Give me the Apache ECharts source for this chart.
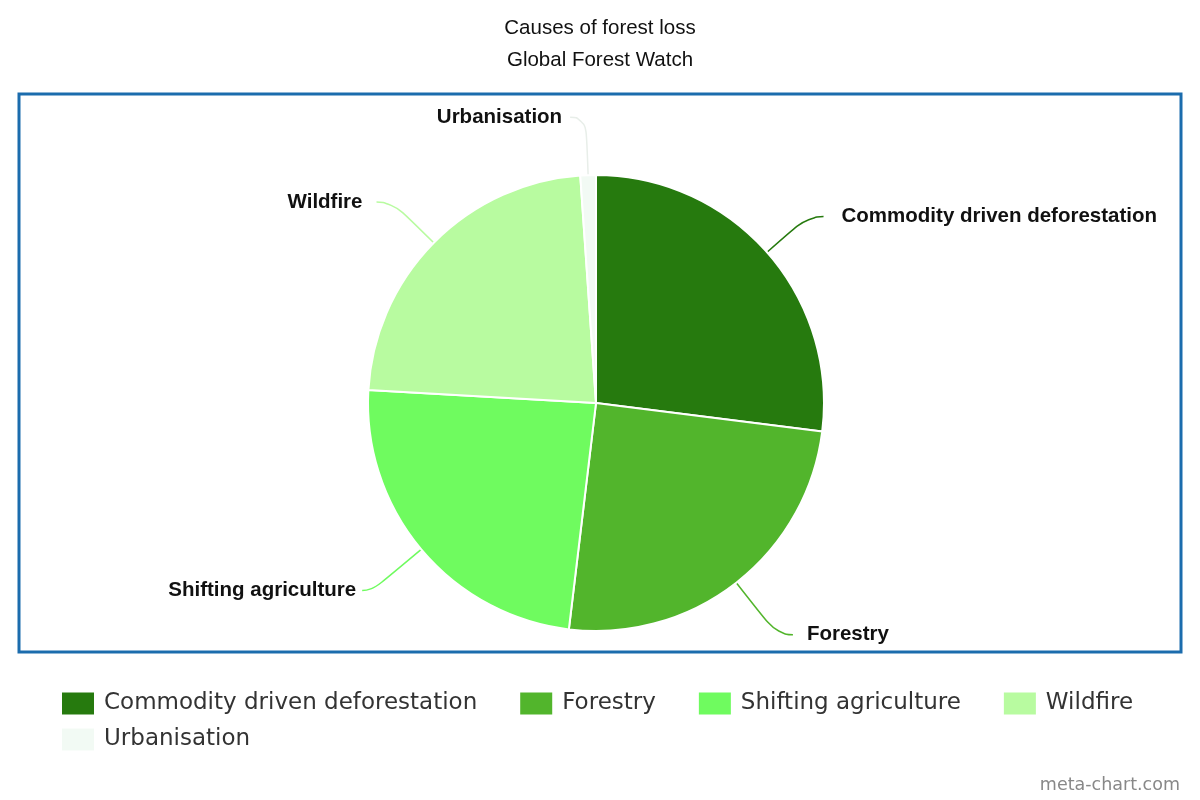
<!DOCTYPE html>
<html>
<head>
<meta charset="utf-8">
<script src="https://cdn.jsdelivr.net/npm/echarts@6/dist/echarts.min.js"></script>
<style>html,body{margin:0;padding:0;background:#fff;}#c{width:1200px;height:800px;}</style>
</head>
<body>
<div id="c"></div>
<script>
const categories = ["Commodity driven deforestation", "Forestry", "Shifting agriculture", "Wildfire", "Urbanisation"];
const values = [27.0, 24.9, 24.0, 23.0, 1.1];
const colors = ["#267a0e", "#52b52c", "#6ffb5f", "#b8fba0", "#f2faf4"];
const titleText = "Causes of forest loss";
const subtitleText = "Global Forest Watch";
const legendRow1 = categories.slice(0, 4);
const legendRow2 = categories.slice(4);
const lineLengths = [54, 66, 64, 58, 58];
const lineLengths2 = [16, 16, 10, 16, 16];
const labelGaps = [18, 14, 6, 14, 8];

const legendBase = {
  orient: 'horizontal',
  left: 62,
  padding: 0,
  itemWidth: 32,
  itemHeight: 22,
  itemGap: 43,
  icon: 'rect',
  itemStyle: {borderWidth: 0},
  textStyle: {fontFamily: 'DejaVu Sans', fontSize: 23, color: '#333', padding: [0, 0, 0, 5]}
};

const chart = echarts.init(document.getElementById('c'), null, {renderer: 'canvas'});
chart.setOption({
  animation: false,
  backgroundColor: '#ffffff',
  title: {
    text: titleText,
    subtext: subtitleText,
    left: 'center',
    top: 13,
    itemGap: 11,
    textStyle: {fontFamily: 'Liberation Sans', fontSize: 20.5, fontWeight: 'normal', color: '#111'},
    subtextStyle: {fontFamily: 'Liberation Sans', fontSize: 20.5, color: '#111'}
  },
  legend: [
    Object.assign({}, legendBase, {top: 692, data: legendRow1}),
    Object.assign({}, legendBase, {top: 728, data: legendRow2})
  ],
  graphic: [
    {type: 'rect', shape: {x: 19, y: 94, width: 1162, height: 558}, style: {fill: 'none', stroke: '#1b6cad', lineWidth: 3}, z: 10},
    {type: 'text', right: 20, bottom: 6, style: {text: 'meta-chart.com', fill: '#888', font: '17.5px "DejaVu Sans"'}}
  ],
  series: [{
    type: 'pie',
    center: [596, 403],
    radius: 228,
    startAngle: 90,
    clockwise: true,
    avoidLabelOverlap: true,
    itemStyle: {borderColor: '#fff', borderWidth: 2},
    label: {
      show: true,
      formatter: '{b}',
      fontFamily: 'Liberation Sans',
      fontWeight: 'bold',
      fontSize: 20.5,
      color: '#111',
      distanceToLabelLine: 14
    },
    labelLine: {show: true, length: 58, length2: 16, smooth: 0.6, lineStyle: {width: 1.5}},
    data: categories.map((n, i) => ({
      name: n,
      value: values[i],
      itemStyle: {color: colors[i]},
      label: {distanceToLabelLine: labelGaps[i]},
      labelLine: {length: lineLengths[i], length2: lineLengths2[i], lineStyle: {color: i === 4 ? '#e8eee9' : colors[i]}}
    }))
  }]
});
</script>
</body>
</html>
